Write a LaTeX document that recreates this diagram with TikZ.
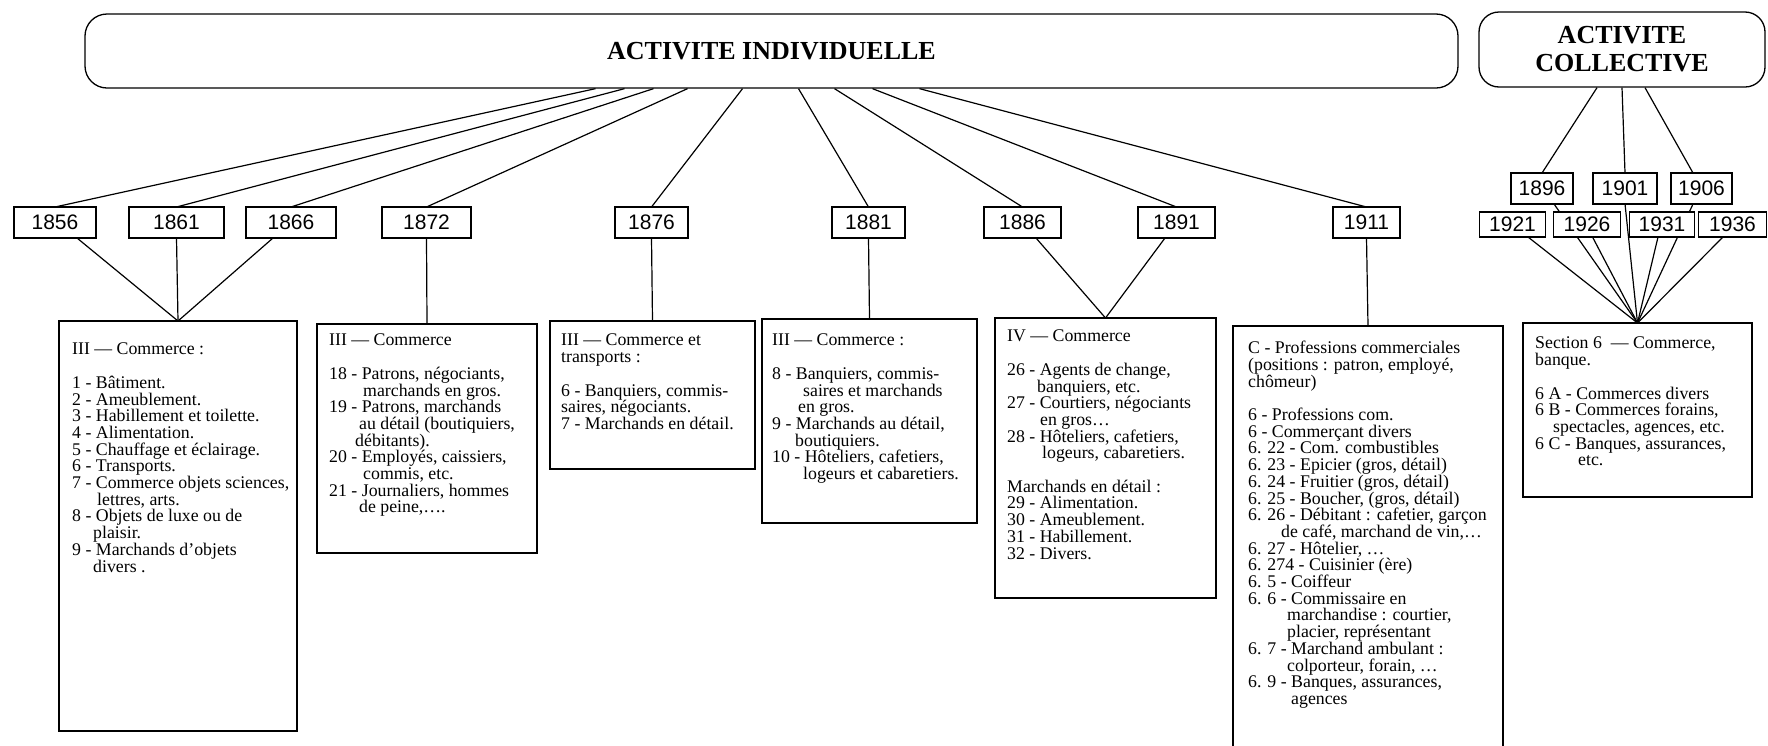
\documentclass[tikz,border=0pt]{standalone}
\usepackage{fontspec}
\setmainfont{Liberation Serif}
\setsansfont{Liberation Sans}
\usepackage{tikz}
\usetikzlibrary{positioning,backgrounds}

\tikzset{
	titlebox/.style={draw,line width=1.3pt,rounded corners=22pt,align=center,font=\fontsize{26}{28}\selectfont\bfseries},
	yearbox/.style={draw,fill=white,line width=1.3pt,inner sep=0pt,outer sep=0pt,minimum height=31pt,font=\sffamily\fontsize{21}{21}\selectfont},
	listbox/.style={draw,line width=1.3pt,inner sep=0pt,outer sep=0pt,anchor=north west},
	listtext/.style={inner sep=0pt,align=left,font=\fontsize{17.8}{16.7}\selectfont},
	link/.style={line width=1.2pt}
}

\begin{document}
\begin{tikzpicture}[x=1pt,y=-1pt]
	\useasboundingbox (0,0) rectangle (1768,745);
	\clip (0,0) rectangle (1768,745);

	\node[titlebox,minimum width=1373pt,minimum height=74pt] (indiv) at (771.5,51) {ACTIVITE INDIVIDUELLE};
	\node[titlebox,rounded corners=20pt,minimum width=286pt,minimum height=75pt] (collect) at (1622,49.5) {ACTIVITE\\COLLECTIVE};

	\begin{scope}[every node/.style={yearbox}]
		\node[minimum width=82pt] (y1856) at (55,222.5) {1856};
		\node[minimum width=95pt,right=33pt of y1856] (y1861) {1861};
		\node[minimum width=90pt,right=22pt of y1861] (y1866) {1866};
		\node[minimum width=89pt,right=46pt of y1866] (y1872) {1872};
		\node[minimum width=73pt,right=144pt of y1872] (y1876) {1876};
		\node[minimum width=73pt,right=144pt of y1876] (y1881) {1881};
		\node[minimum width=77pt,right=79pt of y1881] (y1886) {1886};
		\node[minimum width=77pt,right=77pt of y1886] (y1891) {1891};
		\node[minimum width=67pt,right=118pt of y1891] (y1911) {1911};

		\node[minimum width=62pt] (y1896) at (1542,188.5) {1896};
		\node[minimum width=64pt,right=20pt of y1896] (y1901) {1901};
		\node[minimum width=61pt,right=14pt of y1901] (y1906) {1906};
		\node[minimum width=66pt,minimum height=25pt] (y1921) at (1512.5,224.5) {1921};
		\node[minimum width=67pt,minimum height=25pt,right=8pt of y1921] (y1926) {1926};
		\node[minimum width=65pt,minimum height=25pt,right=9pt of y1926] (y1931) {1931};
		\node[minimum width=68pt,minimum height=25pt,right=4pt of y1931] (y1936) {1936};
	\end{scope}

	\node[listbox,minimum width=238pt,minimum height=410pt] (list1856) at (59,321) {};
	\node[listbox,minimum width=220pt,minimum height=229pt] (list1872) at (317,324) {};
	\node[listbox,minimum width=205pt,minimum height=148pt] (list1876) at (550,321) {};
	\node[listbox,minimum width=215pt,minimum height=204pt] (list1881) at (762,319) {};
	\node[listbox,minimum width=221pt,minimum height=280pt] (list1886) at (995,318) {};
	\node[listbox,minimum width=270pt,minimum height=460pt] (list1911) at (1233,326) {};
	\node[listbox,minimum width=229pt,minimum height=174pt] (list1896) at (1523,323) {};

	\node[listtext,below right=22pt and 13pt of list1856.north west] (text1856) {III — Commerce :\\[16.7pt]
		1 - Bâtiment.\\
		2 - Ameublement.\\
		3 - Habillement et toilette.\\
		4 - Alimentation.\\
		5 - Chauffage et éclairage.\\
		6 - Transports.\\
		7 - Commerce objets sciences,\\
		\hspace*{25pt}lettres, arts.\\
		8 - Objets de luxe ou de\\
		\hspace*{21pt}plaisir.\\
		9 - Marchands d'objets\\
		\hspace*{21pt}divers .};
	\node[listtext,below right=10pt and 12pt of list1872.north west] (text1872) {III — Commerce\\[16.7pt]
		18 - Patrons, négociants,\\
		\hspace*{34pt}marchands en gros.\\
		19 - Patrons, marchands\\
		\hspace*{30pt}au détail (boutiquiers,\\
		\hspace*{26pt}débitants).\\
		20 - Employés, caissiers,\\
		\hspace*{34pt}commis, etc.\\
		21 - Journaliers, hommes\\
		\hspace*{30pt}de peine,….};
	\node[listtext,below right=13pt and 11pt of list1876.north west] (text1876) {III — Commerce et\\
		transports :\\[16.7pt]
		6 - Banquiers, commis-\\
		saires, négociants.\\
		7 - Marchands en détail.};
	\node[listtext,below right=15pt and 10pt of list1881.north west] (text1881) {III — Commerce :\\[16.7pt]
		8 - Banquiers, commis-\\
		\hspace*{31pt}saires et marchands\\
		\hspace*{26pt}en gros.\\
		9 - Marchands au détail,\\
		\hspace*{23pt}boutiquiers.\\
		10 - Hôteliers, cafetiers,\\
		\hspace*{31pt}logeurs et cabaretiers.};
	\node[listtext,below right=12pt and 12pt of list1886.north west] (text1886) {IV — Commerce\\[16.7pt]
		26 - Agents de change,\\
		\hspace*{30pt}banquiers, etc.\\
		27 - Courtiers, négociants\\
		\hspace*{33pt}en gros…\\
		28 - Hôteliers, cafetiers,\\
		\hspace*{35pt}logeurs, cabaretiers.\\[16.7pt]
		Marchands en détail :\\
		29 - Alimentation.\\
		30 - Ameublement.\\
		31 - Habillement.\\
		32 - Divers.};
	\node[listtext,below right=15pt and 15pt of list1911.north west] (text1911) {C - Professions commerciales\\
		(positions : patron, employé,\\
		chômeur)\\[16.7pt]
		6 - Professions com.\\
		6 - Commerçant divers\\
		6. 22 - Com. combustibles\\
		6. 23 - Epicier (gros, détail)\\
		6. 24 - Fruitier (gros, détail)\\
		6. 25 - Boucher, (gros, détail)\\
		6. 26 - Débitant : cafetier, garçon\\
		\hspace*{33pt}de café, marchand de vin,…\\
		6. 27 - Hôtelier, …\\
		6. 274 - Cuisinier (ère)\\
		6. 5 - Coiffeur\\
		6. 6 - Commissaire en\\
		\hspace*{39pt}marchandise : courtier,\\
		\hspace*{39pt}placier, représentant\\
		6. 7 - Marchand ambulant :\\
		\hspace*{39pt}colporteur, forain, …\\
		6. 9 - Banques, assurances,\\
		\hspace*{43pt}agences};
	\node[listtext,below right=14pt and 12pt of list1896.north west] (text1896) {Section 6 \ — Commerce,\\
		banque.\\[16.7pt]
		6 A - Commerces divers\\
		6 B - Commerces forains,\\
		\hspace*{18pt}spectacles, agences, etc.\\
		6 C - Banques, assurances,\\
		\hspace*{43pt}etc.};

	\begin{scope}[on background layer]
	\draw[link] ([xshift=-176pt]indiv.south) -- (y1856.north);
	\draw[link] ([xshift=-147pt]indiv.south) -- (y1861.north);
	\draw[link] ([xshift=-118pt]indiv.south) -- (y1866.north);
	\draw[link] ([xshift=-84pt]indiv.south) -- (y1872.north);
	\draw[link] ([xshift=-29pt]indiv.south) -- (y1876.north);
	\draw[link] ([xshift=27pt]indiv.south) -- (y1881.north);
	\draw[link] ([xshift=63pt]indiv.south) -- (y1886.north);
	\draw[link] ([xshift=101pt]indiv.south) -- (y1891.north);
	\draw[link] ([xshift=148pt]indiv.south) -- (y1911.north);

	\draw[link] ([xshift=-25pt]collect.south) -- (y1896.north);
	\draw[link] (collect.south) -- (y1901.north);
	\draw[link] ([xshift=23pt]collect.south) -- ([xshift=-8.5pt]y1906.north);

	\draw[link] ([xshift=22pt]y1856.south) -- (list1856.north);
	\draw[link] (y1861.south) -- (list1856.north);
	\draw[link] ([xshift=-18pt]y1866.south) -- (list1856.north);
	\draw[link] (y1872.south) -- (list1872.north);
	\draw[link] (y1876.south) -- (list1876.north);
	\draw[link] (y1881.south) -- (list1881.north);
	\draw[link] ([xshift=13.5pt]y1886.south) -- (list1886.north);
	\draw[link] ([xshift=-11.5pt]y1891.south) -- (list1886.north);
	\draw[link] (y1911.south) -- (list1911.north);

	\draw[link] ([xshift=12pt]y1896.south) -- (list1896.north);
	\draw[link] (y1901.south) -- (list1896.north);
	\draw[link] ([xshift=-8.5pt]y1906.south) -- (list1896.north);
	\draw[link] ([xshift=15.5pt]y1921.south) -- (list1896.north);
	\draw[link] ([xshift=5.5pt]y1926.south) -- (list1896.north);
	\draw[link] ([xshift=-4pt]y1931.south) -- (list1896.north);
	\draw[link] ([xshift=-9.5pt]y1936.south) -- (list1896.north);
	\end{scope}
\end{tikzpicture}
\end{document}
